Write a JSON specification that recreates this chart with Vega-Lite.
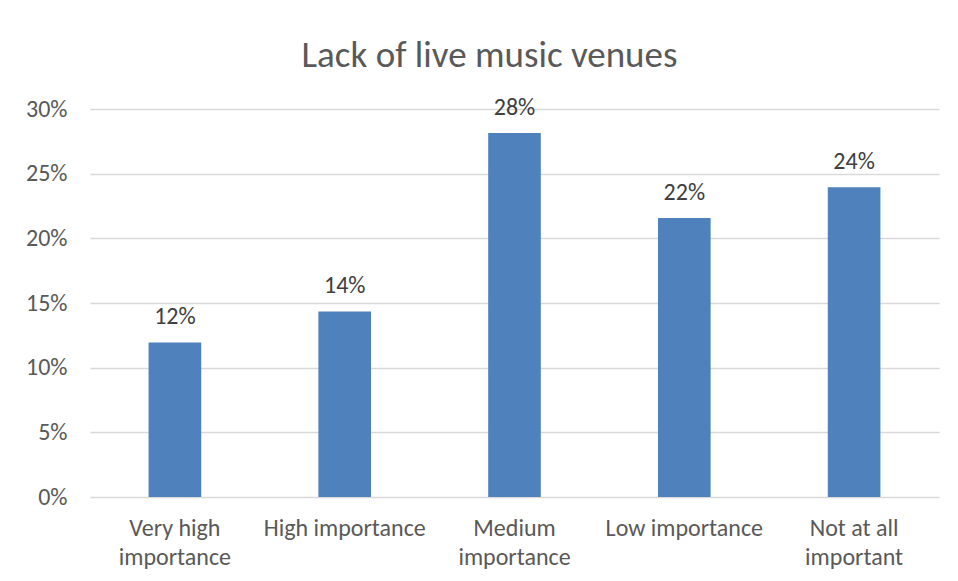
{
  "$schema": "https://vega.github.io/schema/vega-lite/v6.json",
  "width": 849,
  "height": 388,
  "autosize": "none",
  "padding": {"left": 90, "top": 109, "right": 19, "bottom": 84},
  "background": "white",
  "config": {
    "view": {"stroke": null},
    "font": "Carlito, Lato, sans-serif"
  },
  "title": {
    "text": "Lack of live music venues",
    "fontSize": 37,
    "fontWeight": "normal",
    "color": "#595959",
    "anchor": "middle",
    "frame": "group",
    "baseline": "alphabetic",
    "dx": -25,
    "dy": 39,
    "offset": 31
  },
  "data": {
    "values": [
      {"category": "Very high importance", "share": 0.1195},
      {"category": "High importance", "share": 0.1435},
      {"category": "Medium importance", "share": 0.2815},
      {"category": "Low importance", "share": 0.2157},
      {"category": "Not at all important", "share": 0.2395}
    ]
  },
  "encoding": {
    "x": {
      "field": "category",
      "type": "nominal",
      "sort": null,
      "scale": {"paddingInner": 0, "paddingOuter": 0},
      "axis": {
        "title": null,
        "labelAngle": 0,
        "domain": false,
        "ticks": false,
        "labelFontSize": 24,
        "labelColor": "#595959",
        "labelBaseline": "alphabetic",
        "labelPadding": 38,
        "labelLineHeight": 29,
        "labelExpr": "datum.label == 'Very high importance' ? ['Very high', 'importance'] : datum.label == 'Medium importance' ? ['Medium', 'importance'] : datum.label == 'Not at all important' ? ['Not at all', 'important'] : datum.label"
      }
    },
    "y": {
      "field": "share",
      "type": "quantitative",
      "scale": {"domain": [0, 0.3], "nice": false},
      "axis": {
        "title": null,
        "format": ".0%",
        "values": [0, 0.05, 0.1, 0.15, 0.2, 0.25, 0.3],
        "domain": false,
        "ticks": false,
        "labelFontSize": 24,
        "labelColor": "#595959",
        "labelPadding": 23,
        "gridColor": "#D9D9D9",
        "gridWidth": 1.3
      }
    }
  },
  "layer": [
    {
      "mark": {"type": "bar", "color": "#4F81BD", "width": {"band": 0.31}}
    },
    {
      "mark": {"type": "text", "baseline": "alphabetic", "dy": -18, "fontSize": 24, "color": "#404040"},
      "encoding": {
        "text": {"field": "share", "type": "quantitative", "format": ".0%"}
      }
    }
  ]
}
